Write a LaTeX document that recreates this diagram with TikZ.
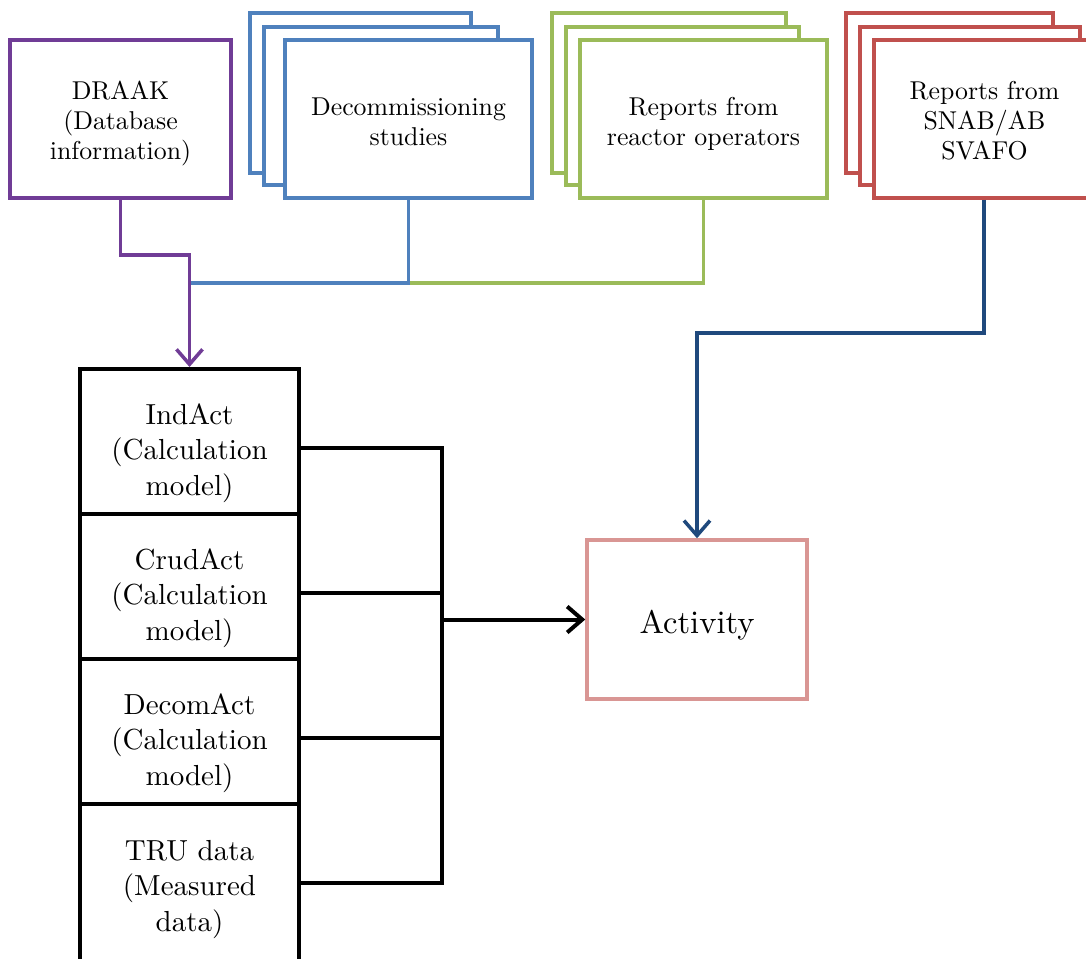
\documentclass[tikz,border=0pt]{standalone}
\usepackage{fontspec}
\setmainfont{lmroman10-regular.otf}
\usetikzlibrary{arrows.meta}
\definecolor{cpurple}{RGB}{112,60,150}
\definecolor{cblue}{RGB}{79,129,189}
\definecolor{cgreen}{RGB}{155,187,89}
\definecolor{cred}{RGB}{192,80,77}
\definecolor{cdark}{RGB}{31,73,125}
\definecolor{cpink}{RGB}{217,150,148}
\tikzset{
  topbox/.style={draw=#1, line width=3.5pt, fill=white, rectangle, align=center, inner sep=0pt,
    font={\fontsize{25.8}{30}\selectfont}},
  threeline/.style={text height=88pt, text depth=8pt},
  twoline/.style={text height=60pt, text depth=8pt},
  stackback/.style={draw=#1, line width=3.5pt, fill=white},
  modeltext/.style={align=center, inner sep=0pt, font={\fontsize{29}{35.5}\selectfont},
    text height=115pt, text depth=8pt},
  modelbox/.style={modeltext, draw=black, line width=4pt, fill=white, rectangle,
    minimum width=219pt, minimum height=145pt},
  conn/.style={draw=#1, line width=3.5pt},
  tipped/.style={-{Straight Barb[length=15pt,width=26pt]}},
}
\begin{document}
\begin{tikzpicture}[x=1pt,y=-1pt]
\clip (0,0) rectangle (1086,958);
\fill[white] (0,0) rectangle (1086,958);

% DRAAK
\node[topbox=cpurple, threeline, minimum width=221pt, minimum height=158pt] (draak) at (120.5,119)
  {DRAAK\\(Database\\information)};

% Decommissioning studies stack
\draw[stackback=cblue] (250,13) rectangle (471,173);
\draw[stackback=cblue] (264,27) rectangle (498,185);
\node[topbox=cblue, twoline, minimum width=247pt, minimum height=158pt] (decom) at (408.5,119)
  {Decommissioning\\studies};

% Reports from reactor operators stack
\draw[stackback=cgreen] (552,13) rectangle (786,173);
\draw[stackback=cgreen] (566,27) rectangle (799,185);
\node[topbox=cgreen, twoline, minimum width=247pt, minimum height=158pt] (reac) at (703.5,119)
  {Reports from\\reactor operators};

% Reports from SNAB/AB SVAFO stack
\draw[stackback=cred] (846,13) rectangle (1053,173);
\draw[stackback=cred] (860,27) rectangle (1080,185);
\node[topbox=cred, threeline, minimum width=221pt, minimum height=158pt] (snab) at (984.5,119)
  {Reports from\\SNAB/AB\\SVAFO};

% Model stack
\node[modelbox] (ind) at (189.5,441.5) {IndAct\\(Calculation\\model)};
\node[modelbox] (crud) at (189.5,586.5) {CrudAct\\(Calculation\\model)};
\node[modelbox] (decact) at (189.5,731.5) {DecomAct\\(Calculation\\model)};
\node[modelbox, minimum height=200pt] (tru) at (189.5,904) {};
\node[modeltext] (trutext) at (189.5,877.5) {TRU data\\(Measured\\data)};

% Activity
\node[draw=cpink, line width=3.5pt, fill=white, minimum width=220pt, minimum height=159pt,
  inner sep=0pt, text height=34pt, text depth=7pt, font={\fontsize{32.6}{40}\selectfont}] (act) at (697,619.5) {Activity};

% Connectors: blue and green merge line
\draw[conn=cgreen] (reac.south) |- (decom.south |- 0,283);
\draw[conn=cblue] (decom.south) |- (ind.north |- 0,283);
% Purple
\draw[conn=cpurple, tipped] (draak.south) |- (ind.north |- 0,255) -- (ind.north);
% Dark blue
\draw[conn=cdark, tipped] (snab.south -| 984,0) |- (act.north |- 0,333) -- (act.north);

% Black bus
\coordinate (bustop) at (442,448);
\coordinate (busbot) at (442,883);
\coordinate (busmid) at (442,619.5);
\draw[conn=black, line width=4pt] (ind.east |- bustop) -- (bustop) -- (busbot) -- (tru.east |- busbot);
\draw[conn=black, line width=4pt] (crud.east |- 0,593) -- (442,593);
\draw[conn=black, line width=4pt] (decact.east |- 0,738) -- (442,738);
\draw[conn=black, line width=4pt, tipped] (busmid) -- (act.west);
\end{tikzpicture}
\end{document}
